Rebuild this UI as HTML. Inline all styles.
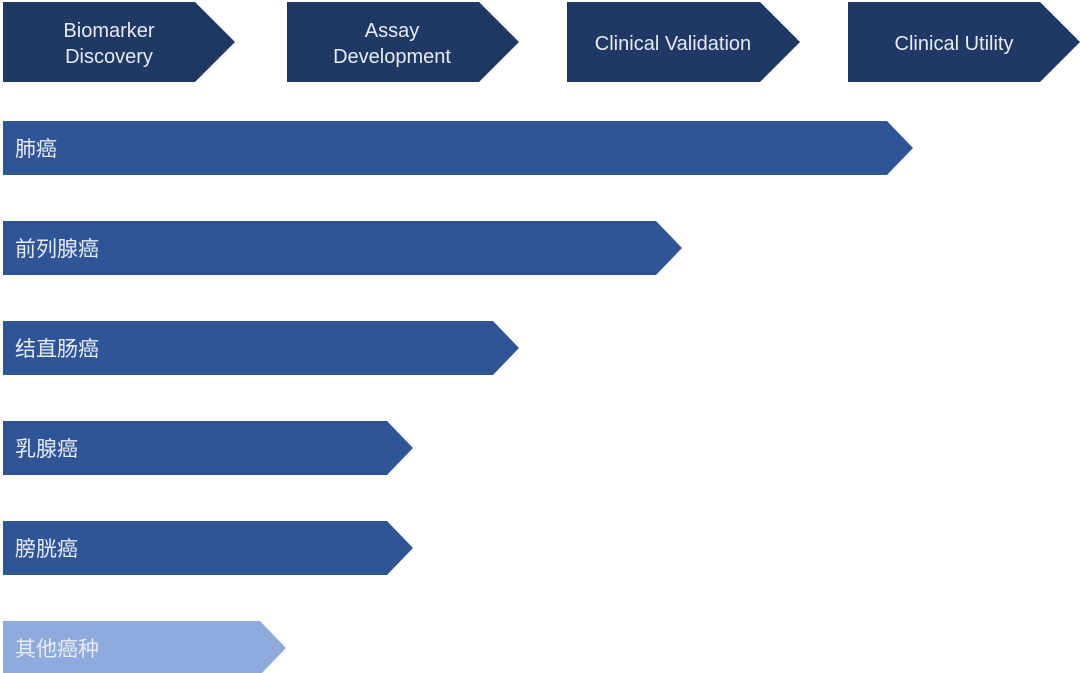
<!DOCTYPE html><html><head><style>body{margin:0;background:#fff;width:1080px;height:673px;overflow:hidden}</style></head><body>
<svg width="1080" height="673" xmlns="http://www.w3.org/2000/svg" style="display:block;font-family:'Liberation Sans','Noto Sans CJK SC',sans-serif">
<g fill="#203864">
<polygon points="3,2 195,2 235,42 195,82 3,82"/>
<polygon points="287,2 479,2 519,42 479,82 287,82"/>
<polygon points="567,2 760,2 800,42 760,82 567,82"/>
<polygon points="848,2 1040,2 1080,42 1040,82 848,82"/>
</g>
<g fill="#e6ebf3" font-size="20" text-anchor="middle">
<text x="109" y="37">Biomarker</text><text x="109" y="63">Discovery</text>
<text x="392" y="37">Assay</text><text x="392" y="63">Development</text>
<text x="673" y="50">Clinical Validation</text>
<text x="954" y="50">Clinical Utility</text>
</g>
<g fill="#2f5597">
<polygon points="3,121 887,121 913,148 887,175 3,175"/>
<polygon points="3,221 656,221 682,248 656,275 3,275"/>
<polygon points="3,321 493,321 519,348 493,375 3,375"/>
<polygon points="3,421 387,421 413,448 387,475 3,475"/>
<polygon points="3,521 387,521 413,548 387,575 3,575"/>
</g>
<polygon fill="#8faadc" points="3,621 260,621 286,648 260,675 3,675"/>
<g fill="#e6ebf3" font-size="21">
<text x="15" y="156">肺癌</text>
<text x="15" y="256">前列腺癌</text>
<text x="15" y="356">结直肠癌</text>
<text x="15" y="456">乳腺癌</text>
<text x="15" y="556">膀胱癌</text>
<text x="15" y="656">其他癌种</text>
</g>
</svg></body></html>
